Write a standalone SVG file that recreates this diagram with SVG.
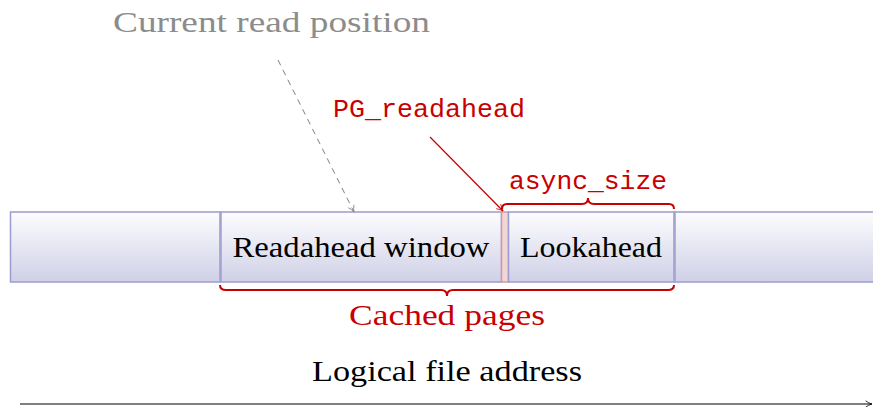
<svg xmlns="http://www.w3.org/2000/svg" width="873" height="407" viewBox="0 0 873 407">
<style>
.box{fill:url(#g);stroke:#9c9cd0;stroke-width:1.5}
.sep{stroke:#a4a4d2;stroke-width:2.5}
.serif{font-family:"Liberation Serif","Times New Roman",serif;font-size:29px}
.mono{font-family:"Liberation Mono","Courier New",monospace;font-size:26px;fill:#c80000}
.brace{fill:none;stroke:#c80000;stroke-width:2}
</style>
<defs>
<linearGradient id="g" x1="0" y1="0" x2="0" y2="1">
<stop offset="0" stop-color="#fdfdff"/>
<stop offset="1" stop-color="#cfd0e6"/>
</linearGradient>
<marker id="ag" viewBox="0 0 10 10" refX="9" refY="5" markerWidth="8" markerHeight="8" orient="auto" markerUnits="userSpaceOnUse">
<path d="M1,1 Q5,4 9,5 Q5,6 1,9" fill="none" stroke="#808080" stroke-width="1"/>
</marker>
<marker id="ar" viewBox="0 0 10 10" refX="9" refY="5" markerWidth="8" markerHeight="8" orient="auto" markerUnits="userSpaceOnUse">
<path d="M1,1 Q5,4 9,5 Q5,6 1,9" fill="none" stroke="#c80000" stroke-width="1"/>
</marker>
<marker id="ak" viewBox="0 0 10 10" refX="9" refY="5" markerWidth="8" markerHeight="8" orient="auto" markerUnits="userSpaceOnUse">
<path d="M1,1 Q5,4 9,5 Q5,6 1,9" fill="none" stroke="#000" stroke-width="1"/>
</marker>
</defs>

<g id="left-box"><rect class="box" x="10.5" y="212" width="210" height="70"/></g>
<g id="readahead-window"><rect class="box" x="220.5" y="212" width="281" height="70"/>
<text class="serif" x="361" y="257" text-anchor="middle" textLength="257" lengthAdjust="spacingAndGlyphs">Readahead window</text></g>
<g id="pg-page"><rect x="501.5" y="212" width="7" height="70" fill="#f2d6d6" stroke="#d49a9a" stroke-width="1.5"/></g>
<g id="lookahead"><rect class="box" x="508.5" y="212" width="166" height="70"/>
<text class="serif" x="591" y="257" text-anchor="middle" textLength="142" lengthAdjust="spacingAndGlyphs">Lookahead</text></g>
<g id="right-box"><rect class="box" x="674.5" y="212" width="210" height="70"/></g>
<line class="sep" x1="220.5" y1="212" x2="220.5" y2="282"/>
<line class="sep" x1="674.5" y1="212" x2="674.5" y2="282"/>

<g id="current-read-position"><text class="serif" x="271.5" y="32" text-anchor="middle" fill="#8c8c8c" textLength="317" lengthAdjust="spacingAndGlyphs">Current read position</text></g>
<g id="pg-readahead-label"><text class="mono" x="429" y="117" text-anchor="middle" textLength="192" lengthAdjust="spacingAndGlyphs">PG_readahead</text></g>
<g id="async-size"><text class="mono" x="588" y="189" text-anchor="middle" textLength="158" lengthAdjust="spacingAndGlyphs">async_size</text>
<path class="brace" d="M502,209 Q502,204 507,204 L582,204 Q588,204 588,198 Q588,204 594,204 L669,204 Q674,204 674,209"/></g>
<g id="cached-pages"><path class="brace" d="M220,285 Q220,290 226,290 L441,290 Q447,290 447,296 Q447,290 453,290 L668,290 Q674,290 674,285"/>
<text class="serif" x="447" y="325" text-anchor="middle" fill="#c80000" textLength="196" lengthAdjust="spacingAndGlyphs">Cached pages</text></g>
<g id="logical-file-address"><text class="serif" x="447" y="381" text-anchor="middle" fill="#000" textLength="270" lengthAdjust="spacingAndGlyphs">Logical file address</text></g>

<g id="connectors">
<line x1="278" y1="60" x2="354" y2="212" stroke="#808080" stroke-width="1" stroke-dasharray="6,5" marker-end="url(#ag)"/>
<line x1="430" y1="137" x2="503" y2="211" stroke="#c80000" stroke-width="1.2" marker-end="url(#ar)"/>
<line x1="20" y1="404" x2="872" y2="404" stroke="#000" stroke-width="1.2" marker-end="url(#ak)"/>
</g>
</svg>
